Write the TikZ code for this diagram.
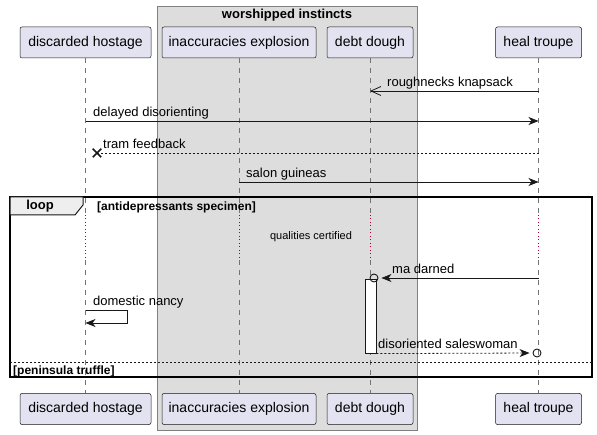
\documentclass[tikz,border=0pt]{standalone}
\usepackage{fontspec}
\setmainfont{Liberation Sans}
\usepackage{tikz}
\usetikzlibrary{arrows.meta, positioning, shapes.misc}

\definecolor{partfill}{HTML}{E2E2F0}
\definecolor{groupfill}{HTML}{DDDDDD}
\definecolor{tabfill}{HTML}{EEEEEE}
\definecolor{delayred}{HTML}{A80036}
\definecolor{edge}{HTML}{181818}

\begin{document}
\begin{tikzpicture}[
    x=1pt, y=-1pt,
    actor/.style={rectangle, draw=edge, line width=0.5pt, fill=partfill, rounded corners=2pt, minimum height=31pt, inner sep=0pt, font=\fontsize{14}{16}\selectfont},
    life/.style={black!55, line width=0.6pt, dash pattern=on 5pt off 5pt},
    delay/.style={delayred, line width=0.7pt, dash pattern=on 1pt off 2.5pt},
    msg/.style={-{Stealth[length=10pt, width=8pt, inset=3pt]}, edge, line width=0.8pt},
    openmsg/.style={-{Straight Barb[length=10pt, width=9pt]}, edge, line width=0.8pt},
    ret/.style={msg, dash pattern=on 2pt off 2pt},
    lbl/.style={font=\fontsize{13}{15}\selectfont, inner sep=0pt, anchor=base west},
    tag/.style={font=\bfseries\fontsize{12}{14}\selectfont, inner sep=0pt, anchor=base west}
]
\useasboundingbox (0,0) rectangle (597,435);

% group box
\filldraw[fill=groupfill, draw=black!50, line width=0.6pt] (157,6) rectangle (417,430);
\node[font=\bfseries\fontsize{13}{15}\selectfont] (group) at (287,15) {worshipped instincts};

% participants
\node[actor, minimum width=131pt] (hostage) at (85.5,42.5) {discarded hostage};
\node[actor, minimum width=154pt] (explosion) at (239,42.5) {inaccuracies explosion};
\node[actor, minimum width=86pt] (dough) at (370,42.5) {debt dough};
\node[actor, minimum width=86pt] (troupe) at (538.5,42.5) {heal troupe};
\node[actor, minimum width=131pt] (hostageb) at (85.5,409) {discarded hostage};
\node[actor, minimum width=154pt] (explosionb) at (239,409) {inaccuracies explosion};
\node[actor, minimum width=86pt] (doughb) at (370,409) {debt dough};
\node[actor, minimum width=86pt] (troupeb) at (538.5,409) {heal troupe};

% lifelines
\foreach \p in {hostage, explosion, dough, troupe} {
    \draw[life] (\p.south) -- (\p |- 0,215);
    \draw[delay] (\p |- 0,215) -- (\p |- 0,260);
    \draw[life] (\p |- 0,260) -- (\p b.north);
}

% message ends
\coordinate (a1) at (troupe |- 0,91);
\coordinate (b1) at (dough |- 0,91);
\coordinate (a2) at (hostage |- 0,121);
\coordinate (b2) at (troupe |- 0,121);
\coordinate (a3) at (troupe |- 0,153);
\coordinate (a4) at (explosion |- 0,182);
\coordinate (b4) at (troupe |- 0,182);
\coordinate (a5) at (troupe |- 0,278);
\coordinate (s1) at (hostage |- 0,310);
\coordinate (s2) at (127,310);
\coordinate (s3) at (127,323);
\coordinate (s4) at (hostage |- 0,323);

\draw[openmsg] (a1) -- (b1);
\node[lbl] (l1) at (387,87) {roughnecks knapsack};
\draw[msg] (a2) -- (b2);
\node[lbl] (l2) at (93,117) {delayed disorienting};
\node[cross out, draw=edge, line width=1.5pt, minimum size=7pt, inner sep=0pt] (x1) at (97,153) {};
\draw[edge, line width=0.8pt, dash pattern=on 2pt off 2pt] (a3) -- (x1.center);
\node[lbl] (l3) at (103,149) {tram feedback};
\draw[msg] (a4) -- (b4);
\node[lbl] (l4) at (246,178) {salon guineas};

% loop frame
\draw[line width=1.5pt] (10,197) rectangle (592,377);
\filldraw[fill=tabfill, draw=edge, line width=1pt] (10,197) -- (83,197) -- (83,205) -- (75,215) -- (10,215) -- cycle;
\node[font=\bfseries\fontsize{13}{15}\selectfont] (looptag) at (40,206) {loop};
\node[tag] (guard) at (97,211) {[antidepressants specimen]};
\node[font=\fontsize{11}{13}\selectfont] (gap) at (311,237) {qualities certified};

% activation
\node[draw=edge, line width=0.6pt, fill=white, minimum width=11pt, minimum height=74pt, inner sep=0pt, anchor=north] (act) at (370.5,279) {};
\node[circle, draw=edge, line width=0.9pt, minimum size=8pt, inner sep=0pt] (c1) at (374,278) {};
\draw[msg, shorten >=3pt] (a5) -- (c1.east);
\node[lbl] (l5) at (392,274) {ma darned};

\draw[msg, rounded corners=0pt] (s1) -- (s2) -- (s3) -- (s4);
\node[lbl] (l6) at (93,306) {domestic nancy};

\node[circle, draw=edge, line width=0.9pt, minimum size=8pt, inner sep=0pt] (c2) at (537,353) {};
\draw[ret, shorten >=3pt] (act.south east) -- (c2.west);
\node[lbl] (l7) at (378,349) {disoriented saleswoman};

% else
\draw[edge, line width=0.7pt, dash pattern=on 2pt off 2pt] (10,362) -- (592,362);
\node[tag] (guard2) at (13,374) {[peninsula truffle]};
\end{tikzpicture}
\end{document}
